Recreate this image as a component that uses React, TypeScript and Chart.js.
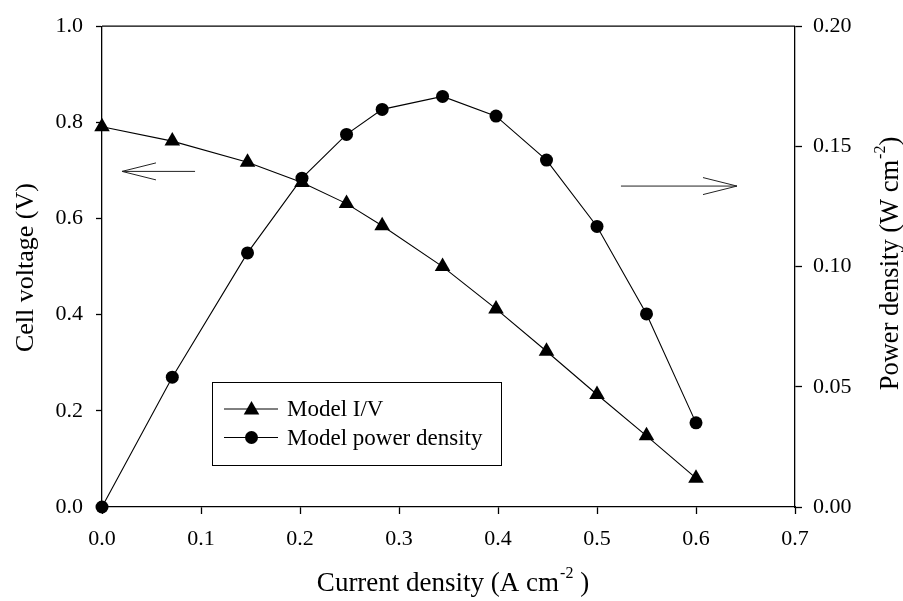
import React, { useEffect, useRef } from 'react';
import { Chart, registerables } from 'chart.js';

Chart.register(...registerables);

// Fuel-cell polarisation data: current density (A cm^-2), cell voltage (V), power density (W cm^-2)
const currentDensity = [0, 0.071, 0.147, 0.202, 0.247, 0.283, 0.344, 0.398, 0.449, 0.5, 0.55, 0.6];
const cellVoltage = [0.791, 0.761, 0.717, 0.675, 0.631, 0.585, 0.5, 0.412, 0.324, 0.234, 0.148, 0.06];
const powerDensity = [0, 0.054, 0.1057, 0.1368, 0.155, 0.1654, 0.1708, 0.1626, 0.1443, 0.1167, 0.0803, 0.035];

const xTickLabels = ['0.0', '0.1', '0.2', '0.3', '0.4', '0.5', '0.6', '0.7'];
const voltageTickLabels = ['0.0', '0.2', '0.4', '0.6', '0.8', '1.0'];
const powerTickLabels = ['0.00', '0.05', '0.10', '0.15', '0.20'];

const seriesLabels = ['Model I/V', 'Model power density'];
const xTitle = ['Current density (A cm', '-2', ' )'];
const voltageTitle = 'Cell voltage (V)';
const powerTitle = ['Power density (W cm', '-2', ')'];

// Direction arrows: which axis each curve belongs to (data units)
const voltageArrow = { y: 0.698, xFrom: 0.094, xTo: 0.0202 };
const powerArrow = { y: 0.1335, xFrom: 0.5242, xTo: 0.6414 };

const FONT = "'Liberation Serif', 'Times New Roman', serif";
const INK = '#000';

function markerPath(ctx: CanvasRenderingContext2D, style: string, x: number, y: number, r: number) {
  ctx.beginPath();
  if (style === 'triangle') {
    let a = 0;
    ctx.moveTo(x + Math.sin(a) * r, y - Math.cos(a) * r);
    a += (2 * Math.PI) / 3;
    ctx.lineTo(x + Math.sin(a) * r, y - Math.cos(a) * r);
    a += (2 * Math.PI) / 3;
    ctx.lineTo(x + Math.sin(a) * r, y - Math.cos(a) * r);
    ctx.closePath();
  } else {
    ctx.arc(x, y, r, 0, Math.PI * 2);
  }
  ctx.fillStyle = INK;
  ctx.fill();
}

// Draws a title made of [main, superscript, tail] centred on (cx, cy), optionally rotated
function drawSupTitle(
  ctx: CanvasRenderingContext2D,
  parts: string[],
  cx: number,
  cy: number,
  rotate: boolean,
  size: number,
) {
  const main = `${size}px ${FONT}`;
  const sup = `16px ${FONT}`;
  ctx.save();
  ctx.font = main;
  const w0 = ctx.measureText(parts[0]).width;
  const w2 = ctx.measureText(parts[2]).width;
  ctx.font = sup;
  const w1 = ctx.measureText(parts[1]).width;
  const total = w0 + w1 + w2 + 1;
  ctx.translate(cx, cy);
  if (rotate) ctx.rotate(-Math.PI / 2);
  ctx.fillStyle = INK;
  ctx.textBaseline = 'alphabetic';
  ctx.textAlign = 'left';
  let x = -total / 2;
  ctx.font = main;
  ctx.fillText(parts[0], x, 0);
  x += w0;
  ctx.font = sup;
  ctx.fillText(parts[1], x + 1, -13);
  x += w1 + 1;
  ctx.font = main;
  ctx.fillText(parts[2], x, 0);
  ctx.restore();
}

const decorations = {
  id: 'decorations',
  afterDraw(chart: any) {
    const ctx: CanvasRenderingContext2D = chart.ctx;
    const { left, right, top } = chart.chartArea;
    const xs = chart.scales.x;
    const yV = chart.scales.y;
    const yP = chart.scales.y1;

    // top frame line
    ctx.save();
    ctx.strokeStyle = INK;
    ctx.lineWidth = 1.3;
    ctx.beginPath();
    ctx.moveTo(left, top);
    ctx.lineTo(right, top);
    ctx.stroke();

    // arrows
    const arrow = (scaleY: any, a: { y: number; xFrom: number; xTo: number }) => {
      const y = scaleY.getPixelForValue(a.y);
      const x0 = xs.getPixelForValue(a.xFrom);
      const x1 = xs.getPixelForValue(a.xTo);
      const dir = Math.sign(x1 - x0);
      ctx.strokeStyle = '#222';
      ctx.lineWidth = 1;
      ctx.beginPath();
      ctx.moveTo(x0, y);
      ctx.lineTo(x1, y);
      ctx.moveTo(x1 - dir * 34, y - 8.5);
      ctx.lineTo(x1, y);
      ctx.lineTo(x1 - dir * 34, y + 8.5);
      ctx.stroke();
    };
    arrow(yV, voltageArrow);
    arrow(yP, powerArrow);

    // legend box
    const bx = 212;
    const by = 382;
    ctx.strokeStyle = INK;
    ctx.lineWidth = 1;
    ctx.strokeRect(bx + 0.5, by + 0.5, 289, 83);
    const rows = [409, 437.5];
    chart.data.datasets.forEach((ds: any, i: number) => {
      const y = rows[i];
      ctx.strokeStyle = INK;
      ctx.lineWidth = 1;
      ctx.beginPath();
      ctx.moveTo(224, y);
      ctx.lineTo(278, y);
      ctx.stroke();
      markerPath(ctx, ds.pointStyle, 251.5, y + (ds.pointStyle === 'triangle' ? 1 : 0), ds.pointRadius);
      ctx.fillStyle = INK;
      ctx.font = `23px ${FONT}`;
      ctx.textAlign = 'left';
      ctx.textBaseline = 'middle';
      ctx.fillText(ds.label, 287, y + 1);
    });
    ctx.restore();

    // axis titles
    ctx.save();
    ctx.fillStyle = INK;
    ctx.font = `26px ${FONT}`;
    ctx.translate(33, (top + chart.chartArea.bottom) / 2 + 1);
    ctx.rotate(-Math.PI / 2);
    ctx.textAlign = 'center';
    ctx.textBaseline = 'alphabetic';
    ctx.fillText(voltageTitle, 0, 0);
    ctx.restore();

    drawSupTitle(ctx, xTitle, 453, 591, false, 27);
    drawSupTitle(ctx, powerTitle, 898, 263.5, true, 26.5);
  },
};

export default function App() {
  const canvasRef = useRef<HTMLCanvasElement | null>(null);

  useEffect(() => {
    if (!canvasRef.current) return;
    const tickFont = { family: FONT, size: 22 };
    const chart = new Chart(canvasRef.current, {
      type: 'line',
      data: {
        datasets: [
          {
            label: seriesLabels[0],
            data: currentDensity.map((x, i) => ({ x, y: cellVoltage[i] })),
            yAxisID: 'y',
            borderColor: INK,
            borderWidth: 1.1,
            backgroundColor: INK,
            pointStyle: 'triangle',
            pointRadius: 9,
            pointBorderWidth: 0,
            pointBackgroundColor: INK,
            clip: false,
            order: 1,
          },
          {
            label: seriesLabels[1],
            data: currentDensity.map((x, i) => ({ x, y: powerDensity[i] })),
            yAxisID: 'y1',
            borderColor: INK,
            borderWidth: 1.1,
            backgroundColor: INK,
            pointStyle: 'circle',
            pointRadius: 6.5,
            pointBorderWidth: 0,
            pointBackgroundColor: INK,
            clip: false,
            order: 0,
          },
        ],
      },
      options: {
        responsive: false,
        animation: false,
        devicePixelRatio: 1,
        layout: { padding: { top: 22, left: 0, right: 0, bottom: 0 } },
        plugins: { legend: { display: false }, tooltip: { enabled: false }, title: { display: false } },
        elements: { line: { tension: 0 } },
        scales: {
          x: {
            type: 'linear',
            min: 0,
            max: 0.7,
            afterBuildTicks: (s: any) => {
              s.ticks = xTickLabels.map((t) => ({ value: parseFloat(t) }));
            },
            afterFit: (s: any) => {
              s.height = 94;
            },
            ticks: {
              callback: (_v: any, i: number) => xTickLabels[i],
              font: tickFont,
              color: INK,
              padding: 12,
              maxRotation: 0,
            },
            grid: { drawOnChartArea: false, tickLength: 7, tickColor: INK, tickWidth: 1.3 },
            border: { display: true, color: INK, width: 1.3 },
          },
          y: {
            type: 'linear',
            position: 'left',
            min: 0,
            max: 1,
            afterBuildTicks: (s: any) => {
              s.ticks = voltageTickLabels.map((t) => ({ value: parseFloat(t) }));
            },
            afterFit: (s: any) => {
              s.width = 102;
            },
            ticks: { callback: (_v: any, i: number) => voltageTickLabels[i], font: tickFont, color: INK, padding: 13 },
            grid: { drawOnChartArea: false, tickLength: 6, tickColor: INK, tickWidth: 1.3 },
            border: { display: true, color: INK, width: 1.3 },
          },
          y1: {
            type: 'linear',
            position: 'right',
            min: 0,
            max: 0.2,
            afterBuildTicks: (s: any) => {
              s.ticks = powerTickLabels.map((t) => ({ value: parseFloat(t) }));
            },
            afterFit: (s: any) => {
              s.width = 108;
            },
            ticks: { callback: (_v: any, i: number) => powerTickLabels[i], font: tickFont, color: INK, padding: 11 },
            grid: { drawOnChartArea: false, tickLength: 7, tickColor: INK, tickWidth: 1.3 },
            border: { display: true, color: INK, width: 1.3 },
          },
        },
      },
      plugins: [decorations],
    } as any);
    return () => chart.destroy();
  }, []);

  return (
    <div style={{ position: 'absolute', left: 0, top: 0, width: 903, height: 601, background: '#fff' }}>
      <canvas ref={canvasRef} width={903} height={601} style={{ display: 'block' }} />
    </div>
  );
}
